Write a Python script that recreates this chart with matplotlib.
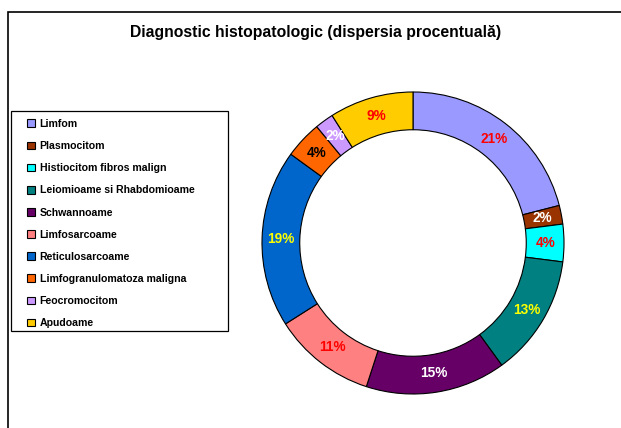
import numpy as np
import matplotlib.pyplot as plt
from matplotlib.patches import Rectangle

plt.rcParams['font.family'] = ['Liberation Sans', 'DejaVu Sans']

categories = ['Limfom', 'Plasmocitom', 'Histiocitom fibros malign',
              'Leiomioame si Rhabdomioame', 'Schwannoame', 'Limfosarcoame',
              'Reticulosarcoame', 'Limfogranulomatoza maligna',
              'Feocromocitom', 'Apudoame']
percents = [21, 2, 4, 13, 15, 11, 19, 4, 2, 9]
colors = ['#9999FF', '#993300', '#00FFFF', '#008080', '#660066',
          '#FF8080', '#0066CC', '#FF6600', '#CC99FF', '#FFCC00']
label_colors = ['#FF0000', 'white', '#FF0000', '#FFFF00', 'white',
                '#FF0000', '#FFFF00', 'black', 'white', '#FF0000']

W, H = 621, 428
fig = plt.figure(figsize=(W / 100, H / 100), dpi=100)

# outer frame (open at right / bottom as in the source)
fig.patches.append(Rectangle((8 / W, -0.1), 1.2, 1 - 12 / H + 0.1,
                             transform=fig.transFigure, fill=False,
                             edgecolor='black', linewidth=1.2))

fig.text(316 / W, 1 - 32 / H, 'Diagnostic histopatologic (dispersia procentuală)',
         ha='center', va='center', fontsize=11.3, fontweight='bold')

cx, cy, r = 413, 243, 151
ax = fig.add_axes([(cx - r) / W, (H - cy - r) / H, 2 * r / W, 2 * r / H])
wedges, texts = ax.pie(percents, colors=colors, startangle=90, counterclock=False,
                       radius=1, wedgeprops=dict(width=0.25, edgecolor='black',
                                                 linewidth=0.8))
ax.set_xlim(-1.0, 1.0)
ax.set_ylim(-1.0, 1.0)

cum = 90.0
for p, c in zip(percents, label_colors):
    ang = np.deg2rad(cum - p * 3.6 / 2)
    cum -= p * 3.6
    ax.text(0.875 * np.cos(ang), 0.875 * np.sin(ang), f'{p}%',
            ha='center', va='center', fontsize=9.8, fontweight='bold', color=c)

# legend box
fig.patches.append(Rectangle((11 / W, 1 - 331 / H), 217 / W, 220 / H,
                             transform=fig.transFigure, fill=False,
                             edgecolor='black', linewidth=0.9))
leg = fig.legend(wedges, categories, loc='upper left',
                 bbox_to_anchor=(27 / W, 1 - 119 / H), borderaxespad=0,
                 frameon=False, borderpad=0,
                 prop=dict(size=7.6, weight='bold'), labelspacing=1.15,
                 handlelength=0.75, handleheight=0.75, handletextpad=0.45)

fig.savefig('out.png', dpi=100)
